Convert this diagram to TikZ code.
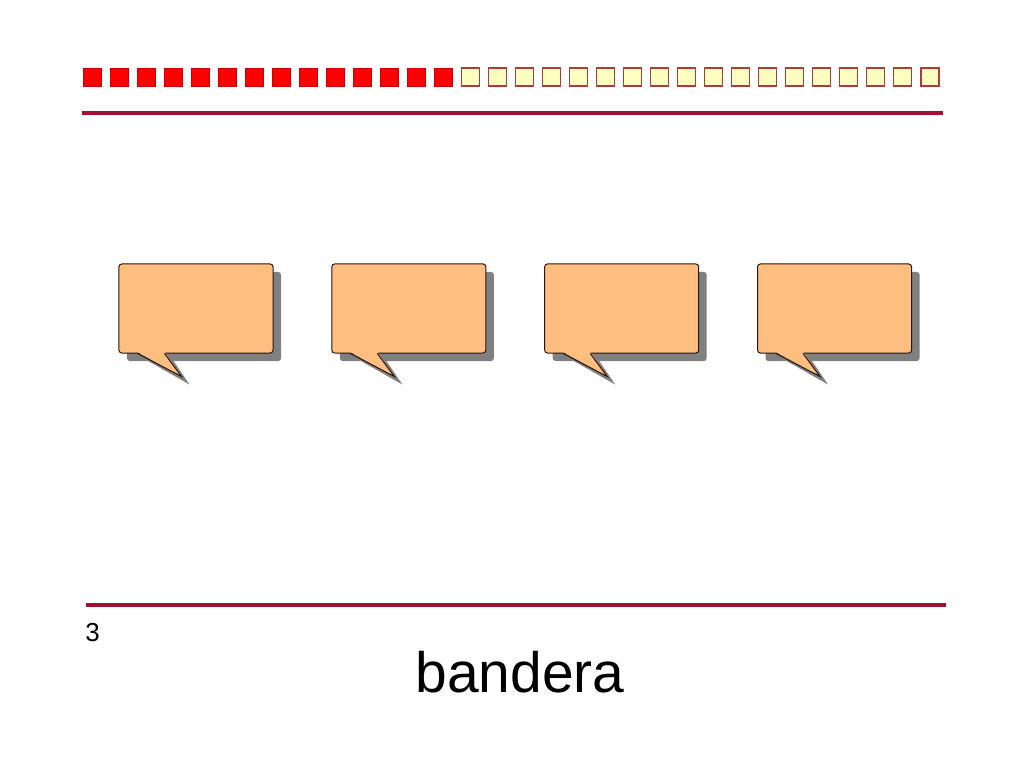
\documentclass[tikz,border=0pt]{standalone}
\usepackage{fontspec}
\setmainfont{Liberation Sans}
\usepackage{xcolor}
\usetikzlibrary{positioning, calc, shadows, backgrounds}

\definecolor{rulered}{RGB}{160,18,52}
\definecolor{sqborder}{RGB}{170,60,60}
\definecolor{sqyellow}{RGB}{255,255,192}
\definecolor{bubblefill}{RGB}{253,190,128}
\definecolor{bubbleline}{RGB}{40,20,10}
\definecolor{bubbleshade}{RGB}{128,128,128}

\begin{document}
\begin{tikzpicture}[
    x=0.025cm, y=-0.025cm,
    rule/.style={draw=rulered, line width=2.2pt},
    fullsq/.style={
      draw=red!80!black,
      fill=red,
      inner sep=0pt,
      minimum size=0.45cm,
      line width=0.5pt
    },
    emptysq/.style={
      draw=sqborder,
      fill=sqyellow,
      inner sep=0pt,
      minimum size=0.45cm,
      line width=0.8pt
    },
    bubble/.style={
      draw=bubbleline,
      fill=bubblefill,
      rounded corners=2pt,
      line width=0.7pt,
      minimum width=3.85cm,
      minimum height=2.225cm,
      drop shadow={shadow xshift=0.2cm, shadow yshift=-0.2cm, fill=bubbleshade, opacity=1}
    },
    node distance=1.445cm
]
\useasboundingbox (0,0) rectangle (1024,768);
% row of squares
\foreach \i in {0,...,13}
  \node[fullsq] (sq\i) at (92+27.03*\i, 77) {};
\foreach \i in {14,...,31}
  \node[emptysq] (sq\i) at (92+27.03*\i, 77) {};
% rules
\draw[rule] (82,113) -- (943,113);
\draw[rule] (86,605) -- (946,605);
% speech bubbles
\node[bubble] (c1) at (196,308.5) {};
\node[bubble, right=of c1] (c2) {};
\node[bubble, right=of c2] (c3) {};
\node[bubble, right=of c3] (c4) {};
\foreach \c in {c1,c2,c3,c4} {
  \begin{scope}[on background layer]
    \fill[bubbleshade] ($(\c.south west)+(27,6)$) -- ($(\c.south west)+(71,31)$) -- ($(\c.south west)+(54,6)$) -- cycle;
  \end{scope}
  \fill[bubblefill] ($(\c.south west)+(19,-1.5)$) -- ($(\c.south west)+(63,23)$) -- ($(\c.south west)+(46,-1.5)$) -- cycle;
  \draw[bubbleline, line width=0.7pt] ($(\c.south west)+(19,0)$) -- ($(\c.south west)+(63,23)$) -- ($(\c.south west)+(46,0)$);
}
% footer
\node[font=\fontsize{18.5}{20}\selectfont] (num) at (92.5,633) {3};
\node[font=\fontsize{40.5}{48}\selectfont] (title) at (520,672) {bandera};
\end{tikzpicture}
\end{document}
